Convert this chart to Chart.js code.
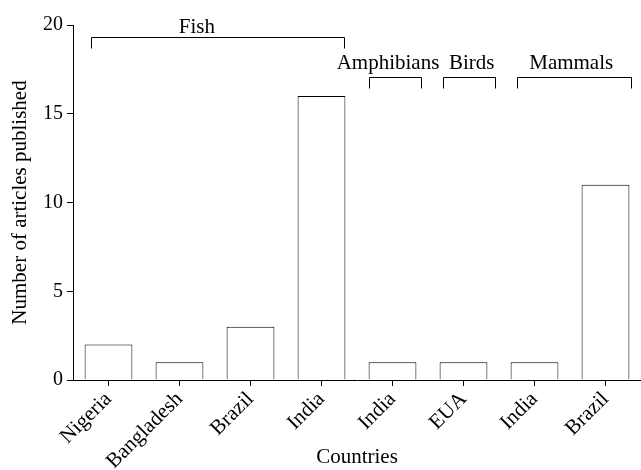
<!DOCTYPE html>
<html>
<head>
<meta charset="utf-8">
<script src="https://cdn.jsdelivr.net/npm/chart.js@4/dist/chart.umd.min.js"></script>
<style>
  html, body { margin: 0; padding: 0; background: #fff; overflow: hidden; }
  #wrap { width: 641px; height: 470px; }
</style>
</head>
<body>
<div id="wrap"><canvas id="c" width="641" height="470"></canvas></div>
<script>
// Articles published per country, grouped by animal class
const countries = ['Nigeria', 'Bangladesh', 'Brazil', 'India', 'India', 'EUA', 'India', 'Brazil'];
const articles = [2, 1, 3, 16, 1, 1, 1, 11];

// Animal-class groups shown as brackets above the bars
const groupNames = ['Fish', 'Amphibians', 'Birds', 'Mammals'];
const groupFirst = [0, 4, 5, 6];
const groupLast = [3, 4, 5, 7];

const yTicks = [0, 5, 10, 15, 20];
const FONT = '"Liberation Serif", "Times New Roman", serif';

// Bracket geometry, in category / value units
const bracketLayout = [
  { left: -0.25, right: 0.32, label: 1.245, top: 19.34, drop: 0.64 },
  { left: -0.33, right: 0.40, label: 3.937, top: 17.07, drop: 0.60 },
  { left: -0.29, right: 0.45, label: 5.115, top: 17.07, drop: 0.60 },
  { left: -0.25, right: 0.36, label: 6.517, top: 17.07, drop: 0.60 }
];

const bracketPlugin = {
  id: 'groupBrackets',
  afterDatasetsDraw(chart) {
    const { ctx, scales: { x, y } } = chart;
    const step = x.getPixelForValue(1) - x.getPixelForValue(0);
    const px = v => x.getPixelForValue(0) + v * step;
    ctx.save();
    ctx.strokeStyle = '#000';
    ctx.lineWidth = 1;
    ctx.fillStyle = '#000';
    ctx.font = '21px ' + FONT;
    ctx.textAlign = 'center';
    ctx.textBaseline = 'alphabetic';
    groupNames.forEach((name, i) => {
      const b = bracketLayout[i];
      const x0 = Math.round(px(groupFirst[i] + b.left)) + 0.5;
      const x1 = Math.round(px(groupLast[i] + b.right)) + 0.5;
      const yTop = Math.round(y.getPixelForValue(b.top)) + 0.5;
      const yEnd = Math.round(y.getPixelForValue(b.top - b.drop)) + 0.5;
      ctx.beginPath();
      ctx.moveTo(x0, yEnd);
      ctx.lineTo(x0, yTop);
      ctx.lineTo(x1, yTop);
      ctx.lineTo(x1, yEnd);
      ctx.stroke();
      ctx.fillText(name, px(b.label), yTop - (i === 0 ? 5 : 9));
    });
    ctx.restore();
  }
};

new Chart(document.getElementById('c'), {
  type: 'bar',
  data: {
    labels: countries,
    datasets: [{
      data: articles,
      backgroundColor: '#fff',
      borderColor: '#000',
      borderWidth: 1,
      barPercentage: 0.673,
      categoryPercentage: 1.0
    }]
  },
  options: {
    responsive: false,
    animation: false,
    layout: { padding: { top: 25, right: -3, left: 0, bottom: 0 } },
    plugins: {
      legend: { display: false },
      tooltip: { enabled: false }
    },
    scales: {
      x: {
        afterFit(scale) { scale.height = 90; },
        grid: { offset: false, drawOnChartArea: false, drawTicks: true, tickLength: 6, color: '#000' },
        border: { display: true, color: '#000', width: 1 },
        ticks: {
          color: '#000',
          font: { family: FONT, size: 21 },
          minRotation: 45,
          maxRotation: 45,
          padding: 1
        },
        title: {
          display: true,
          text: 'Countries',
          color: '#000',
          font: { family: FONT, size: 21 },
          padding: { top: 0, bottom: 0 }
        }
      },
      y: {
        min: 0,
        max: 20,
        afterFit(scale) { scale.width = 73; },
        afterBuildTicks(scale) { scale.ticks = yTicks.map(v => ({ value: v })); },
        grid: { drawOnChartArea: false, drawTicks: true, tickLength: 6, color: '#000' },
        border: { display: true, color: '#000', width: 1 },
        ticks: {
          color: '#000',
          font: { family: FONT, size: 20 },
          padding: 4
        },
        title: {
          display: true,
          text: 'Number of articles published',
          color: '#000',
          font: { family: FONT, size: 21 },
          padding: { top: 8, bottom: 0 }
        }
      }
    }
  },
  plugins: [bracketPlugin]
});
</script>
</body>
</html>
